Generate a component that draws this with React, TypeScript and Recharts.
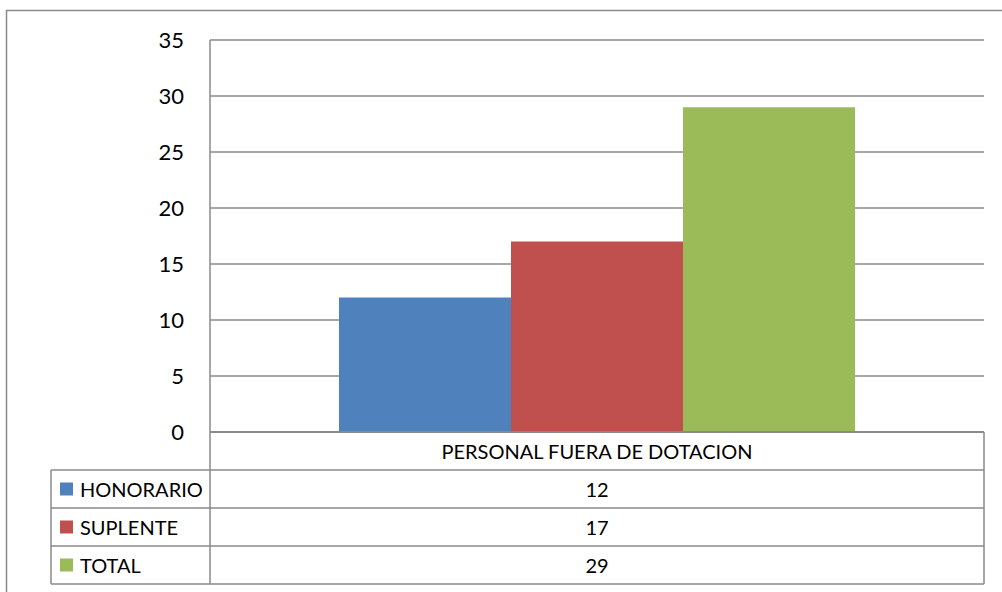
import React from "react";
import { BarChart, Bar, XAxis, YAxis, CartesianGrid } from "recharts";

const categories = ["PERSONAL FUERA DE DOTACION"];
const seriesNames = ["HONORARIO", "SUPLENTE", "TOTAL"];
const seriesValues = [12, 17, 29];
const seriesColors = ["#4F81BD", "#C0504D", "#9BBB59"];
const yTicks = [0, 5, 10, 15, 20, 25, 30, 35];

const data = categories.map((name) => {
  const row: Record<string, string | number> = { name };
  seriesNames.forEach((s, i) => {
    row[s] = seriesValues[i];
  });
  return row;
});

const LINE = "#8a8a8a";
const FONT = "Lato, 'Open Sans', sans-serif";

// data table under the plot, as in the Excel original
function DataTable() {
  const rowTop = 470;
  const rowH = 38;
  const left = 51;
  const axisX = 210;
  const right = 984;
  return (
    <svg
      width={1002}
      height={592}
      style={{ position: "absolute", left: 0, top: 0, pointerEvents: "none" }}
    >
      {/* outer chart frame (cut at right/bottom) */}
      <line x1={6.5} y1={10} x2={6.5} y2={592} stroke={LINE} strokeWidth={1.5} />
      <line x1={6} y1={10.5} x2={1002} y2={10.5} stroke={LINE} strokeWidth={1.5} />

      <line x1={axisX} y1={432} x2={axisX} y2={rowTop + rowH * 3} stroke={LINE} strokeWidth={1.5} />
      <line x1={right} y1={432} x2={right} y2={rowTop + rowH * 3} stroke={LINE} strokeWidth={1.5} />
      <line x1={left} y1={rowTop} x2={left} y2={rowTop + rowH * 3} stroke={LINE} strokeWidth={1.5} />
      {[0, 1, 2, 3].map((i) => (
        <line
          key={i}
          x1={left}
          y1={rowTop + rowH * i}
          x2={right}
          y2={rowTop + rowH * i}
          stroke={LINE}
          strokeWidth={1.5}
        />
      ))}
      {seriesNames.map((s, i) => {
        const cy = rowTop + rowH * i + rowH / 2;
        return (
          <g key={s}>
            <rect x={60} y={cy - 6.5} width={13} height={13} fill={seriesColors[i]} />
            <text x={80} y={cy} dominantBaseline="central" fontSize={20} fill="#000" fontFamily={FONT}>
              {s}
            </text>
            <text
              x={(axisX + right) / 2}
              y={cy}
              dominantBaseline="central"
              textAnchor="middle"
              fontSize={20}
              fill="#000"
              fontFamily={FONT}
            >
              {seriesValues[i]}
            </text>
          </g>
        );
      })}
    </svg>
  );
}

export default function App() {
  return (
    <div
      style={{
        position: "absolute",
        left: 0,
        top: 0,
        width: 1002,
        height: 592,
        background: "#fff",
        fontFamily: FONT,
      }}
    >
      <BarChart
        width={1002}
        height={592}
        data={data}
        margin={{ top: 40, right: 18, left: 0, bottom: 130 }}
        barCategoryGap={129}
        barGap={0}
      >
        <CartesianGrid vertical={false} stroke={LINE} strokeWidth={1.5} />
        <XAxis
          dataKey="name"
          height={30}
          tickLine={false}
          tickSize={0}
          tickMargin={13}
          axisLine={{ stroke: LINE, strokeWidth: 2 }}
          tick={{ fill: "#000", fontSize: 20 }}
        />
        <YAxis
          width={210}
          domain={[0, 35]}
          ticks={yTicks}
          interval={0}
          tickLine={false}
          tickSize={0}
          tickMargin={26}
          axisLine={{ stroke: LINE, strokeWidth: 1.5 }}
          tick={{ fill: "#000", fontSize: 22 }}
        />
        {seriesNames.map((s, i) => (
          <Bar key={s} dataKey={s} fill={seriesColors[i]} isAnimationActive={false} />
        ))}
      </BarChart>
      <DataTable />
    </div>
  );
}
